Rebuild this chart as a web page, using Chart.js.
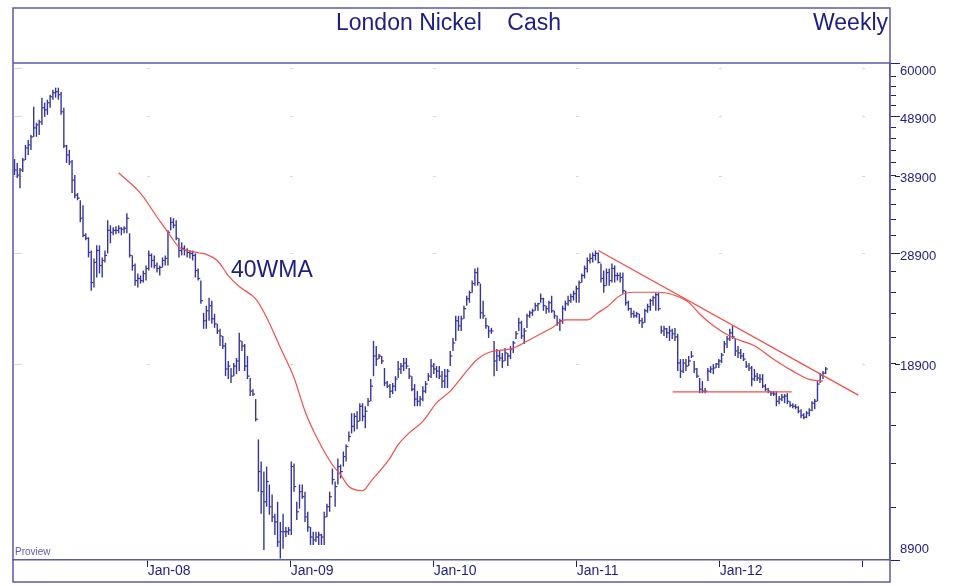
<!DOCTYPE html>
<html>
<head>
<meta charset="utf-8">
<title>London Nickel Cash - Weekly</title>
<script src="https://cdn.jsdelivr.net/npm/chart.js@4.4.1/dist/chart.umd.min.js"></script>
<style>
    html, body { margin: 0; padding: 0; background: #ffffff; }
    #wrap { width: 956px; height: 586px; }
</style>
</head>
<body>
<div id="wrap"><canvas id="nickel-chart" width="956" height="586"></canvas></div>
<script>
(function () {
    'use strict';

    //WEEKLY BARS, THE FIRST ONE IS THE WEEK OF 26 JAN 2007
    var firstWeek = 2007.0685;

    var highs = [
        41500, 40870, 40090, 41670, 43810, 44660, 45530, 50720, 47690, 48240,
        52510, 51510, 52110, 53120, 54150, 54580, 54580, 53740, 50530, 43810,
        42970, 41340, 39020, 36410, 35430, 34760, 31200, 30730, 29210, 28330,
        29790, 29790, 28440, 29210, 32800, 32180, 31940, 32060, 32180, 31940,
        32060, 33700, 31200, 28660, 27790, 26730, 26530, 27040, 27570, 29210,
        28880, 28660, 27900, 27570, 28440, 28660, 31560, 33190, 33060, 32800,
        30610, 30140, 29790, 29450, 29210, 29210, 28880, 27260, 26020, 22990,
        23630, 24360, 24090, 22910, 22040, 21620, 21040, 20480, 19110, 18600,
        18960, 19330, 21290, 20640, 20400, 19480, 17900, 17150, 16510, 14140,
        12990, 12500, 12740, 11890, 11440, 10630, 11130, 10300, 10630, 10100,
        10100, 12990, 12890, 11130, 11890, 11890, 11570, 10710, 10100, 9920,
        9920, 9920, 9840, 10710, 11050, 11570, 12640, 12030, 13140, 12840,
        13500, 13870, 14580, 15640, 15640, 15760, 16250, 16250, 16060, 16570,
        17830, 20640, 20240, 19630, 19480, 18600, 17690, 17490, 17560, 18030,
        19110, 18960, 19330, 19330, 18600, 18030, 17490, 17020, 16700, 17350,
        17690, 18240, 19250, 18960, 18740, 18740, 18380, 18530, 18530, 19860,
        20880, 22730, 22730, 22730, 23630, 24550, 25030, 26020, 27260, 27360,
        25720, 24090, 22560, 21870, 21700, 20640, 20010, 19860, 19710, 20090,
        19710, 20240, 20640, 21450, 22560, 22300, 21700, 22910, 23170, 23360,
        23900, 23900, 24750, 24360, 23630, 24090, 24550, 23170, 22730, 22470,
        23630, 24090, 24550, 24750, 25030, 25520, 26020, 26730, 27570, 28440,
        28880, 28990, 29210, 28990, 27790, 27040, 27260, 27260, 27790, 27570,
        26830, 26830, 26830, 25030, 24090, 23450, 23170, 23080, 22910, 22560,
        23360, 23810, 24270, 24550, 24840, 24840, 21870, 21870, 21700, 21870,
        21620, 21700, 21210, 19250, 19250, 19250, 19480, 19860, 19110, 18600,
        17900, 17690, 17220, 18600, 18740, 18890, 18960, 19250, 19710, 20640,
        21040, 21620, 21870, 20800, 20240, 20010, 19710, 19110, 18960, 18740,
        18530, 18240, 18170, 18170, 17490, 17220, 17020, 17020, 17020, 16700,
        16830, 16830, 16890, 16370, 16250, 16190, 16060, 15880, 15640, 15760,
        15940, 16370, 16510, 17690, 18240, 18380, 18670
    ];

    var lows = [
        39020, 38580, 37110, 39480, 41340, 42150, 42970, 45180, 45180, 45530,
        47310, 48790, 49170, 50530, 52110, 52510, 52110, 49170, 43310, 40870,
        40550, 36410, 35710, 35430, 32550, 30730, 30370, 28440, 25030, 25330,
        26330, 26730, 26330, 27900, 28880, 30030, 30960, 31080, 31200, 30960,
        31200, 31200, 28440, 27040, 25520, 25330, 25720, 25820, 26020, 27040,
        27360, 27260, 26830, 26530, 27360, 27570, 27570, 31560, 31810, 30370,
        28440, 28660, 28660, 28440, 28330, 28110, 26330, 26020, 23810, 21620,
        21620, 22300, 22040, 21700, 21210, 20240, 20010, 18030, 17830, 17560,
        18030, 18170, 18380, 19860, 18380, 17830, 16700, 16700, 15160, 11570,
        10630, 9250, 10920, 10590, 10300, 9800, 9360, 8950, 9290, 9720,
        9800, 9800, 11570, 10380, 10840, 11260, 10300, 9920, 9430, 9430,
        9540, 9430, 9430, 9430, 10500, 10710, 11890, 10920, 11890, 12170,
        12740, 12990, 14030, 14470, 14580, 14700, 15160, 15160, 14760, 16060,
        16370, 18030, 18740, 19250, 18890, 17350, 17220, 16570, 16830, 17020,
        17900, 18170, 18380, 18530, 17830, 17020, 16060, 16060, 16060, 16370,
        16890, 17690, 17900, 18170, 17900, 17830, 17220, 17220, 17220, 18740,
        19860, 20640, 21450, 21450, 22470, 23630, 23900, 24840, 25520, 25520,
        22470, 22470, 21620, 20880, 21210, 18030, 18380, 19110, 18600, 19110,
        18740, 19250, 19710, 20800, 21450, 20800, 20400, 21700, 22560, 22730,
        23170, 23170, 23900, 23170, 22910, 22990, 22990, 22470, 21870, 21450,
        22040, 23170, 23630, 23900, 24090, 23900, 23900, 25820, 26230, 26830,
        27790, 27900, 28110, 27790, 25820, 24840, 25520, 25520, 25820, 25820,
        26020, 25820, 24750, 23630, 23170, 22560, 22560, 22560, 22040, 21700,
        22130, 22990, 23170, 23630, 23170, 23170, 21210, 21040, 20880, 20640,
        20800, 20640, 18380, 17900, 18240, 18380, 18740, 19330, 18240, 17900,
        16890, 16890, 16890, 17690, 18240, 18170, 18600, 18600, 18960, 19710,
        20090, 20640, 20800, 19480, 19330, 19250, 19110, 18600, 18380, 17350,
        17690, 17690, 17560, 17220, 17020, 16890, 16700, 16700, 16060, 16190,
        16370, 16250, 16190, 16000, 15940, 15880, 15640, 15340, 15280, 15340,
        15450, 15760, 15880, 16370, 17560, 17830, 18170
    ];

    var closes = [
        39780, 39020, 39780, 41340, 43310, 43810, 45180, 46770, 47310, 47870,
        50530, 50130, 51510, 52710, 53530, 53740, 53120, 49750, 43640, 42150,
        41030, 38270, 36130, 35710, 33060, 30960, 30610, 28990, 25820, 27900,
        29210, 27570, 28110, 28660, 31560, 31320, 31560, 31560, 31810, 31690,
        31810, 33060, 28660, 27570, 26020, 26230, 26020, 26730, 27260, 28660,
        28110, 27570, 27260, 27360, 28110, 28330, 31320, 32550, 32180, 30610,
        29210, 29450, 29210, 28990, 28880, 28660, 27040, 26230, 24090, 22300,
        23170, 23630, 22470, 22040, 21450, 21040, 20240, 18530, 18740, 18030,
        18740, 19110, 20640, 20240, 18740, 18030, 17020, 16830, 15280, 12500,
        11570, 11130, 12030, 10920, 10500, 10300, 9540, 9920, 9920, 9920,
        9990, 12740, 11800, 10710, 11570, 11350, 10500, 10100, 9720, 9610,
        9720, 9800, 9720, 10500, 10920, 11350, 12120, 11800, 12740, 12500,
        13240, 13760, 14300, 14870, 15450, 15160, 16060, 15450, 15760, 16370,
        17350, 19480, 19250, 19480, 19110, 17560, 17350, 17020, 17350, 17830,
        18530, 18740, 18960, 18740, 18030, 17150, 16510, 16370, 16510, 17020,
        17490, 18030, 18740, 18530, 18380, 18030, 17690, 18030, 18380, 19480,
        20480, 22300, 21870, 22470, 23360, 24270, 24840, 25720, 26830, 25820,
        22990, 22730, 21870, 21450, 21450, 19110, 19480, 19330, 19110, 19710,
        19480, 20010, 20480, 21210, 22130, 21040, 21450, 22730, 22990, 23170,
        23630, 23810, 24270, 23630, 23360, 23900, 23170, 22730, 22130, 22300,
        23360, 23810, 24090, 24460, 24750, 25230, 25820, 26530, 27260, 28110,
        28330, 28660, 28880, 27900, 26230, 25520, 26830, 26020, 27260, 26530,
        26530, 26330, 25030, 23900, 23360, 22910, 22730, 22910, 22300, 22130,
        23170, 23540, 24090, 24360, 24650, 23360, 21450, 21620, 21290, 21450,
        21210, 20960, 18960, 18380, 18960, 18740, 19110, 19480, 18530, 18030,
        17150, 17020, 17020, 18380, 18530, 18600, 18890, 19110, 19550, 20400,
        20800, 21290, 20960, 19860, 19710, 19480, 19250, 18740, 18600, 17830,
        18030, 17900, 17830, 17350, 17150, 17020, 16890, 16830, 16370, 16510,
        16640, 16700, 16370, 16120, 16060, 16000, 15760, 15520, 15400, 15640,
        15820, 16250, 16370, 17490, 18100, 18240, 18530
    ];

    //40 WEEK MOVING AVERAGE (WEEK NUMBER, PRICE)
    var maWeeks = [
        38, 46, 52, 57, 60, 64, 67, 70, 74, 78,
        82, 88, 92, 97, 102, 106, 111, 116, 119, 122,
        127, 130, 137, 140, 144, 149, 154, 159, 165, 169,
        173, 182, 189, 196, 201, 209, 213, 216, 221, 226,
        235, 241, 246, 250, 255, 262, 270, 277, 284, 290,
        295
    ];
    var maValues = [
        39370, 36370, 33220, 30840, 29590, 29140, 28960, 28770, 28110, 26530,
        25430, 24250, 22590, 20120, 17920, 15760, 14040, 12830, 12350, 11800,
        11610, 12030, 13160, 13860, 14500, 15160, 16270, 17020, 18380, 19250,
        19740, 20080, 20860, 21690, 22370, 22370, 23030, 23480, 24570, 24880,
        24880, 24570, 23930, 22890, 21880, 20910, 20260, 19240, 18380, 17810,
        17690
    ];

    //HAND DRAWN RESISTANCE AND SUPPORT LINES
    var trendDates = [2011.151, 2012.969];
    var trendValues = [29210, 16760];
    var supportDates = [2011.671, 2012.503];
    var supportValues = [16970, 16970];

    var yearTicks = [2008, 2009, 2010, 2011, 2012, 2013];
    var priceTicks = [
        8900, 10900, 12900, 14900, 16900, 18900, 20900, 22900, 24900, 26900,
        28900, 30900, 32900, 34900, 36900, 38900, 40900, 42900, 44900, 46900,
        48900, 50900, 52900, 54900, 56900, 60000
    ];
    var priceLabels = [8900, 18900, 28900, 38900, 48900, 60000];
    var gridPrices = [18900, 28900, 38900, 48900, 58900];

    var NAVY = '#1d1d86';
    var FRAME = '#5a5aaa';
    var BAR = '#36369a';
    var RED = '#f0504a';
    var GRID = '#d6d6e2';
    var FONT = "'Liberation Sans', Arial, sans-serif";

    function weekToYear(i) {
        return firstWeek + i * 7 / 365.25;
    }

    var ranges = highs.map(function (h, i) {
        return { x: weekToYear(i), y: [lows[i], h] };
    });
    var closeTicks = closes.map(function (c, i) {
        return { x: weekToYear(i), y: c };
    });
    var ma = maWeeks.map(function (w, i) {
        return { x: weekToYear(w), y: maValues[i] };
    });
    var trend = trendDates.map(function (d, i) {
        return { x: d, y: trendValues[i] };
    });
    var support = supportDates.map(function (d, i) {
        return { x: d, y: supportValues[i] };
    });

    //LIGHT GRID MARKS AT THE CROSSINGS
    var gridMarks = {
        id: 'gridMarks',
        beforeDatasetsDraw: function (chart) {
            var ctx = chart.ctx;
            var xs = chart.scales.x;
            var ys = chart.scales.y;
            var area = chart.chartArea;
            ctx.save();
            ctx.fillStyle = GRID;
            gridPrices.forEach(function (p) {
                var y = Math.round(ys.getPixelForValue(p));
                ctx.fillRect(area.left + 1, y, 8, 1);
                yearTicks.forEach(function (yr) {
                    var x = Math.round(xs.getPixelForValue(yr));
                    ctx.fillRect(x - 1, y, 3, 1);
                });
            });
            ctx.restore();
        }
    };

    //FRAME, TITLES AND THE END LABELS OF THE PRICE AXIS
    var frame = {
        id: 'frame',
        afterDraw: function (chart) {
            var ctx = chart.ctx;
            var area = chart.chartArea;
            var ys = chart.scales.y;
            ctx.save();

            ctx.strokeStyle = FRAME;
            ctx.lineWidth = 1.5;
            ctx.strokeRect(area.left, 8, area.right - area.left, 574);
            ctx.beginPath();
            ctx.moveTo(area.left, area.top);
            ctx.lineTo(area.right, area.top);
            ctx.stroke();

            ctx.strokeStyle = NAVY;
            ctx.lineWidth = 1;
            priceLabels.forEach(function (p) {
                var y = Math.round(ys.getPixelForValue(p)) + 0.5;
                ctx.beginPath();
                ctx.moveTo(area.right + 5, y);
                ctx.lineTo(area.right + 10, y);
                ctx.stroke();
            });

            ctx.fillStyle = NAVY;
            ctx.textBaseline = 'middle';
            ctx.textAlign = 'left';
            ctx.font = '13px ' + FONT;
            ctx.fillText('60000', area.right + 10, ys.getPixelForValue(60000) + 8);
            ctx.fillText('8900', area.right + 10, ys.getPixelForValue(8900) - 11);

            ctx.font = '23px ' + FONT;
            ctx.fillText('London Nickel    Cash', 336, 24);
            ctx.fillText('40WMA', 231, 271);
            ctx.textAlign = 'right';
            ctx.fillText('Weekly', 888, 24);

            ctx.textAlign = 'left';
            ctx.fillStyle = '#5c5cb2';
            ctx.font = '10px ' + FONT;
            ctx.fillText('Proview', 15, 552);

            ctx.restore();
        }
    };

    new Chart(document.getElementById('nickel-chart'), {
        type: 'bar',
        data: {
            datasets: [
                {
                    type: 'line',
                    label: 'Resistance',
                    data: trend,
                    borderColor: RED,
                    borderWidth: 1.3,
                    pointRadius: 0
                },
                {
                    type: 'line',
                    label: 'Support',
                    data: support,
                    borderColor: RED,
                    borderWidth: 1.3,
                    pointRadius: 0
                },
                {
                    type: 'line',
                    label: '40WMA',
                    data: ma,
                    borderColor: RED,
                    borderWidth: 1.2,
                    pointRadius: 0,
                    cubicInterpolationMode: 'monotone'
                },
                {
                    type: 'scatter',
                    label: 'Close',
                    data: closeTicks,
                    pointStyle: 'dash',
                    pointRadius: 2.2,
                    pointBorderWidth: 1.2,
                    pointBorderColor: BAR,
                    pointBackgroundColor: BAR
                },
                {
                    type: 'bar',
                    label: 'High-Low',
                    data: ranges,
                    backgroundColor: BAR,
                    borderWidth: 0,
                    barThickness: 1.4,
                    inflateAmount: 0
                }
            ]
        },
        options: {
            responsive: false,
            devicePixelRatio: 1,
            animation: false,
            events: [],
            layout: { padding: { left: 13, top: 63, right: 0, bottom: 0 } },
            plugins: {
                legend: { display: false },
                tooltip: { enabled: false },
                title: { display: false }
            },
            scales: {
                x: {
                    type: 'linear',
                    min: 2007.058,
                    max: 2013.191,
                    offset: false,
                    afterBuildTicks: function (scale) {
                        scale.ticks = yearTicks.map(function (v) { return { value: v }; });
                    },
                    afterFit: function (scale) {
                        scale.height = 26;
                    },
                    grid: {
                        offset: false,
                        drawOnChartArea: false,
                        tickLength: 7,
                        tickColor: NAVY,
                        tickWidth: 1
                    },
                    border: { display: true, color: FRAME, width: 1.5 },
                    ticks: {
                        autoSkip: false,
                        maxRotation: 0,
                        align: 'start',
                        padding: -4,
                        color: NAVY,
                        font: { family: FONT, size: 14 },
                        callback: function (value) {
                            if (value === 2013) {
                                return '';
                            }
                            return 'Jan-' + String(value).slice(2);
                        }
                    }
                },
                y: {
                    type: 'logarithmic',
                    position: 'right',
                    min: 8900,
                    max: 60000,
                    afterBuildTicks: function (scale) {
                        scale.ticks = priceTicks.map(function (v) { return { value: v }; });
                    },
                    afterFit: function (scale) {
                        scale.width = 66;
                    },
                    grid: {
                        drawOnChartArea: false,
                        tickLength: 6,
                        tickColor: NAVY,
                        tickWidth: 1
                    },
                    border: { display: true, color: FRAME, width: 1.5 },
                    ticks: {
                        autoSkip: false,
                        padding: 4,
                        labelOffset: 3,
                        color: NAVY,
                        font: { family: FONT, size: 13 },
                        callback: function (value) {
                            if (value === 8900 || value === 60000) {
                                return '';
                            }
                            return priceLabels.indexOf(value) >= 0 ? String(value) : '';
                        }
                    }
                }
            }
        },
        plugins: [gridMarks, frame]
    });
})();
</script>
</body>
</html>
